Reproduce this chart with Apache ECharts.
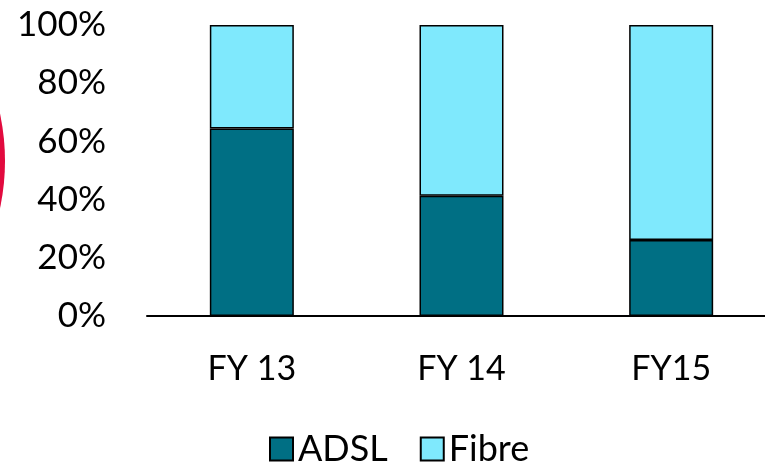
<!DOCTYPE html>
<html>
<head>
<meta charset="utf-8">
<script src="https://cdn.jsdelivr.net/npm/echarts@6/dist/echarts.min.js"></script>
<style>
  html, body { margin: 0; padding: 0; background: #fff; }
  #chart { width: 765px; height: 463px; }
</style>
</head>
<body>
<div id="chart"></div>
<script>
// Broadband connection mix by financial year (share of total, %)
const categories = ['FY 13', 'FY 14', 'FY15'];
const adsl = [64.4, 41.3, 26.1];
const fibre = [35.6, 58.7, 73.9];
const yTicks = [0, 20, 40, 60, 80, 100];

const FONT = 'Lato, "Open Sans", sans-serif';
const chart = echarts.init(document.getElementById('chart'), null, { renderer: 'canvas' });

chart.setOption({
  animation: false,
  backgroundColor: '#ffffff',
  textStyle: { fontFamily: FONT, color: '#000' },
  graphic: [{
    type: 'circle',
    shape: { cx: -222, cy: 161, r: 227 },
    style: { fill: '#E20A3E' },
    silent: true
  }],
  grid: { left: 147, top: 25, width: 629, height: 291, containLabel: false, outerBoundsMode: 'none' },
  legend: {
    left: 264,
    top: 426,
    itemWidth: 23,
    itemHeight: 23,
    itemGap: 32,
    icon: 'rect',
    textStyle: { fontFamily: FONT, fontSize: 36, color: '#000' },
    data: ['ADSL', 'Fibre']
  },
  xAxis: {
    type: 'category',
    data: categories,
    axisLine: { lineStyle: { color: '#000', width: 2 } },
    axisTick: { show: false },
    axisLabel: { fontFamily: FONT, fontSize: 34, color: '#000', margin: 36 },
    splitLine: { show: false }
  },
  yAxis: {
    type: 'value',
    min: yTicks[0],
    max: yTicks[yTicks.length - 1],
    interval: 20,
    axisLine: { show: false },
    axisTick: { show: false },
    splitLine: { show: false },
    axisLabel: {
      fontFamily: FONT, fontSize: 35, color: '#000', margin: 41,
      formatter: v => v + '%'
    }
  },
  series: [
    {
      name: 'ADSL',
      type: 'bar',
      stack: 'mix',
      barWidth: 84,
      data: adsl,
      itemStyle: { color: '#006F84', borderColor: '#000', borderWidth: 1.5 }
    },
    {
      name: 'Fibre',
      type: 'bar',
      stack: 'mix',
      barWidth: 84,
      data: fibre,
      itemStyle: { color: '#7FE9FD', borderColor: '#000', borderWidth: 1.5 }
    }
  ]
});
</script>
</body>
</html>
